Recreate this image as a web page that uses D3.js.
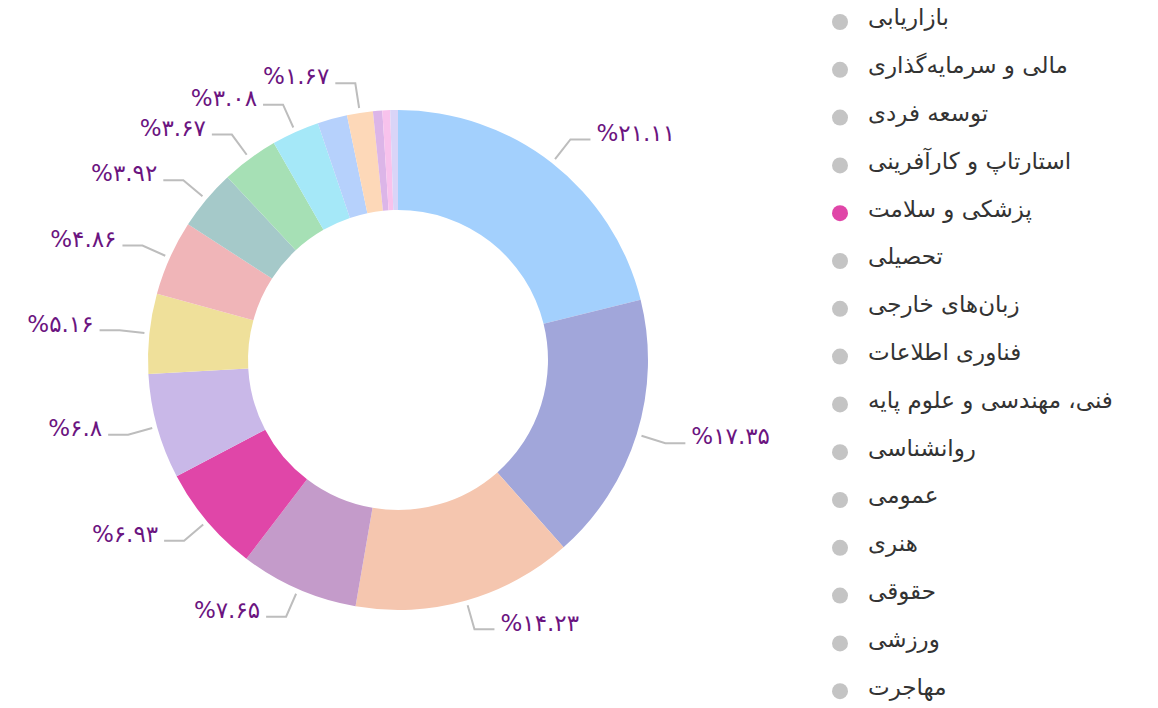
<!DOCTYPE html>
<html>
<head>
<meta charset="utf-8">
<script src="https://cdn.jsdelivr.net/npm/d3@7"></script>
<style>
	body { margin: 0; background: #fff; }
	text { font-family: "DejaVu Sans", sans-serif; }
</style>
</head>
<body>
<div id="main"></div>
<script>
const categories = [
	"بازاریابی",
	"مالی و سرمایه‌گذاری",
	"توسعه فردی",
	"استارتاپ و کارآفرینی",
	"پزشکی و سلامت",
	"تحصیلی",
	"زبان‌های خارجی",
	"فناوری اطلاعات",
	"فنی، مهندسی و علوم پایه",
	"روانشناسی",
	"عمومی",
	"هنری",
	"حقوقی",
	"ورزشی",
	"مهاجرت",
	"سایر",
];
const shares = [21.11, 17.35, 14.23, 7.65, 6.93, 6.8, 5.16, 4.86, 3.92, 3.67, 3.08, 1.92, 1.67, 0.6, 0.5, 0.5];
const sliceColors = [
	"#a3d0fd", "#a1a6da", "#f5c6af", "#c49bca", "#e046a8", "#c9b8e8",
	"#efe09a", "#f0b5b8", "#a5c9c9", "#a6e0b5", "#a5e8f8", "#b6d1fc",
	"#fdd8b8", "#dcb5e8", "#f8c2ec", "#d9d4f7",
];
const activeIndex = 4;
const legendVisible = 15; // legend only has room for the first 15 entries

const width = 1158,
	height = 708;
const cx = 398,
	cy = 360,
	outer = 250,
	inner = 150;

const faDigits = "۰۱۲۳۴۵۶۷۸۹";
const toFa = (n) => String(n).replace(/[0-9]/g, (d) => faDigits[+d]);

const data = categories.map((c, i) => ({ name: c, value: shares[i], color: sliceColors[i] }));

const svg = d3
	.select("#main")
	.append("svg")
	.attr("width", width)
	.attr("height", height);

const pie = d3.pie().sort(null).value((d) => d.value);
const arc = d3.arc().innerRadius(inner).outerRadius(outer);
const arcs = pie(data);

const chart = svg.append("g").attr("transform", `translate(${cx},${cy})`);

chart
	.selectAll("path.slice")
	.data(arcs)
	.enter()
	.append("path")
	.classed("slice", true)
	.attr("d", arc)
	.style("fill", (d) => d.data.color);

// label lines: small gap, radial segment, then horizontal segment
const polar = (a, r) => [r * Math.sin(a), -r * Math.cos(a)];
const labels = arcs.map((d) => {
	const mid = (d.startAngle + d.endAngle) / 2;
	const p0 = polar(mid, outer + 5);
	const p1 = polar(mid, outer + 30);
	const right = p1[0] >= 0;
	const p2 = [p1[0] + (right ? 20 : -20), p1[1]];
	return { d, p0, p1, p2, right };
});

const labelG = chart.append("g");
const kept = [];
labels.forEach((l) => {
	const g = labelG.append("g");
	g.append("polyline")
		.attr("points", [l.p0, l.p1, l.p2].map((p) => p.join(",")).join(" "))
		.style("fill", "none")
		.style("stroke", "#bdbdbd")
		.style("stroke-width", 2);
	const t = g
		.append("text")
		.attr("x", l.p2[0] + (l.right ? 6 : -6))
		.attr("y", l.p2[1])
		.attr("dy", "0.05em")
		.attr("text-anchor", l.right ? "start" : "end")
		.attr("direction", "ltr")
		.style("fill", "#6b1480")
		.style("font-size", "23px")
		.text("%" + toFa(l.d.data.value));
	const b = t.node().getBBox();
	const clash = kept.some(
		(k) => b.x < k.x + k.width && k.x < b.x + b.width && b.y < k.y + k.height && k.y < b.y + b.height
	);
	if (clash) {
		g.remove();
	} else {
		kept.push(b);
	}
});

const legend = svg.append("g").attr("transform", "translate(840,22)");
const items = legend
	.selectAll("g.item")
	.data(data.slice(0, legendVisible))
	.enter()
	.append("g")
	.classed("item", true)
	.attr("transform", (d, i) => `translate(0,${i * 47.8})`);
items
	.append("circle")
	.attr("r", 8)
	.style("fill", (d, i) => (i === activeIndex ? d.color : "#c4c4c4"));
items
	.append("text")
	.attr("x", 28)
	.attr("dy", "0.15em")
	.style("fill", "#333")
	.style("font-size", "23px")
	.text((d) => d.name);
</script>
</body>
</html>
